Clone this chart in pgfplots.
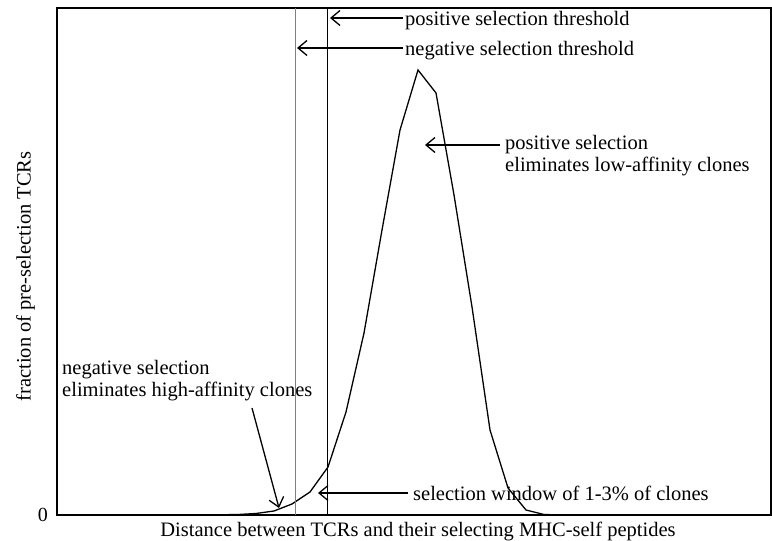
\documentclass[border=0pt]{standalone}
\usepackage{pgfplots}
\pgfplotsset{compat=1.18}
\usetikzlibrary{arrows.meta}
\usepackage{fontspec}
\setmainfont{Liberation Serif}
\begin{document}
\fontsize{20.5bp}{22bp}\selectfont
\begin{tikzpicture}[x=1bp,y=1bp, arr/.style={->, line width=1.3pt, >={Straight Barb[length=9bp,width=15bp]}}]
\useasboundingbox (0,0) rectangle (772,541);
\begin{axis}[
  at={(57bp,26bp)}, anchor=south west,
  scale only axis, width=714bp, height=507bp,
  xmin=57, xmax=771, ymin=0, ymax=507,
  xtick=\empty, ytick={0}, yticklabels={0},
  major tick length=0pt,
  /pgf/number format/assume math mode=true,
  tick label style={font=\fontsize{20bp}{22bp}\selectfont},
  label style={font=\fontsize{20.5bp}{22bp}\selectfont},
  xlabel={Distance between TCRs and their selecting MHC-self peptides},
  ylabel={fraction of pre-selection TCRs},
  xlabel style={yshift=0bp, xshift=4bp},
  ylabel style={yshift=-11bp, xshift=-15bp},
  yticklabel style={xshift=-2bp},
  axis line style={line width=1.3pt},
  clip=false,
]
\addplot[black, line width=1.3pt] coordinates {
(57,0) (220,0.2) (238,0.5) (256,1.5) (274,4) (292,11) (310,23) (328,48) (346,103)
(364,182) (382,285) (400,385) (418,445) (436,422) (454,320) (472,208)
(490,85) (508,27) (526,5) (544,0.5) (562,0) (771,0)
};
\addplot[gray, line width=1pt] coordinates {(295,0) (295,507)};
\addplot[black, line width=1pt] coordinates {(327,0) (327,507)};
% arrows
\draw[arr] (axis cs:403,497) -- (axis cs:330,497);
\node[anchor=base west, inner sep=0pt] at (axis cs:405,489) {positive selection threshold};
\draw[arr] (axis cs:403,467) -- (axis cs:297,467);
\node[anchor=base west, inner sep=0pt] at (axis cs:405,459) {negative selection threshold};
\draw[arr] (axis cs:500,370) -- (axis cs:425,370);
\node[anchor=north west, inner sep=0pt, align=left] at (axis cs:505,380) {positive selection\\eliminates low-affinity clones};
\draw[arr] (axis cs:408,22) -- (axis cs:318,22);
\node[anchor=west, inner sep=0pt] at (axis cs:413,22) {selection window of 1-3\% of clones};
\node[anchor=north west, inner sep=0pt, align=left] at (axis cs:62,155) {negative selection\\eliminates high-affinity clones};
\draw[arr] (axis cs:252,107) -- (axis cs:279,7);
\end{axis}
\end{tikzpicture}
\end{document}
